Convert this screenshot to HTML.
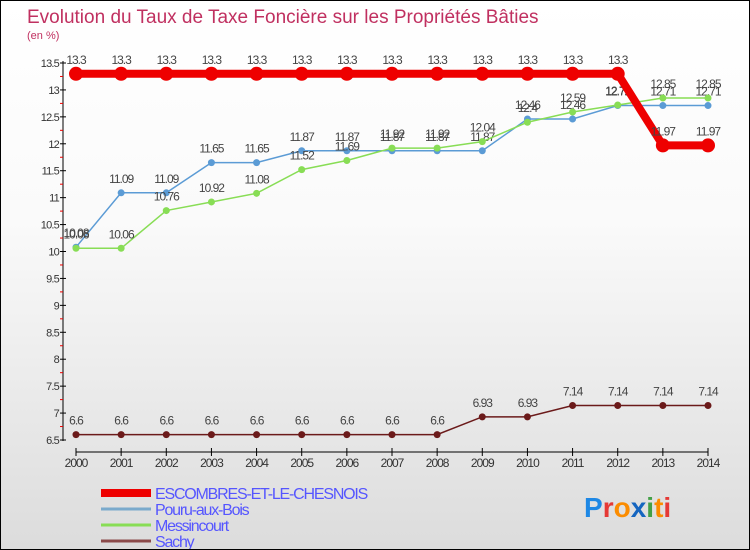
<!DOCTYPE html>
<html><head><meta charset="utf-8"><style>
body{margin:0;}
#wrap{width:748px;height:548px;border:1px solid #000;background:linear-gradient(#fff,#fafafa 40%,#dcdcdc);position:relative;overflow:hidden;font-family:"Liberation Sans",sans-serif;}
svg text{font-family:"Liberation Sans",sans-serif;}
</style></head><body>
<div id="wrap">
<svg id="c" width="748" height="548">
<text x="26" y="22" font-size="19" fill="#c03060">Evolution du Taux de Taxe Foncière sur les Propriétés Bâties</text>
<text x="26" y="38" font-size="11" fill="#c03060">(en %)</text>
</svg>
</div>
<script>
const years=[2000,2001,2002,2003,2004,2005,2006,2007,2008,2009,2010,2011,2012,2013,2014];
const escombres=[13.3,13.3,13.3,13.3,13.3,13.3,13.3,13.3,13.3,13.3,13.3,13.3,13.3,11.97,11.97];
const pouru=[10.08,11.09,11.09,11.65,11.65,11.87,11.87,11.87,11.87,11.87,12.46,12.46,12.71,12.71,12.71];
const messincourt=[10.06,10.06,10.76,10.92,11.08,11.52,11.69,11.92,11.92,12.04,12.4,12.59,12.72,12.85,12.85];
const sachy=[6.6,6.6,6.6,6.6,6.6,6.6,6.6,6.6,6.6,6.93,6.93,7.14,7.14,7.14,7.14];
const yTicks=[6.5,7,7.5,8,8.5,9,9.5,10,10.5,11,11.5,12,12.5,13,13.5];
const seriesNames=["ESCOMBRES-ET-LE-CHESNOIS","Pouru-aux-Bois","Messincourt","Sachy"];
const NS="http://www.w3.org/2000/svg";
const svg=document.getElementById('c');
const x=i=>75+i*(632/(years.length-1));
const y=v=>439-(v-6.5)*(377/7);
function mk(t,a,p){const e=document.createElementNS(NS,t);for(const k in a)e.setAttribute(k,a[k]);(p||svg).appendChild(e);return e;}
const ax=mk('line',{x1:62,y1:60,x2:62,y2:440,stroke:'#000'});


yTicks.forEach((v,i)=>{
  mk('line',{x1:59,x2:65,y1:y(v),y2:y(v),stroke:'#000'});
  if(i<yTicks.length-1)mk('line',{x1:59,x2:62,y1:y(v+0.25),y2:y(v+0.25),stroke:'#e00'});
  const t=mk('text',{x:58,y:y(v)+4,'font-size':11,'text-anchor':'end',fill:'#333','letter-spacing':'-0.8'});
  t.textContent=String(v);
  
  
});
const xa=mk('line',{x1:75,y1:451,x2:707,y2:451,stroke:'#000'});


years.forEach((yr,i)=>{
  mk('line',{x1:x(i),x2:x(i),y1:447,y2:455,stroke:'#000'});
  const t=mk('text',{x:x(i),y:466,'font-size':12,'text-anchor':'middle',fill:'#333','letter-spacing':'-1'});
  t.textContent=yr;
  
  
});
function series(data,color,w,r,name){
  const g=mk('g',{});
  
  
  mk('polyline',{points:data.map((v,i)=>x(i)+','+y(v)).join(' '),fill:'none',stroke:color,'stroke-width':w},g);
  data.forEach((v,i)=>{
    const c=mk('circle',{cx:x(i),cy:y(v),r:r,fill:color},g);
    
    
    const t=mk('text',{x:x(i),y:y(v)-10,'font-size':12,'text-anchor':'middle',fill:'#444','letter-spacing':'-1'},g);
    t.textContent=String(v);
    
    
  });
}
series(sachy,'#6b1a1a',1.5,3.5,'series-sachy');
series(pouru,'#5b9bd5',1.5,3.5,'series-pouru');
series(messincourt,'#88dd55',1.5,3.5,'series-messincourt');
series(escombres,'#ee0000',8,7,'series-escombres');
const lc=['#ee0000','#7aaacc','#88dd55','#8b4a4a'],lw=[8,3,3,3];
seriesNames.forEach((n,i)=>{
  const yy=492+i*16;
  const l=mk('line',{x1:100,x2:150,y1:yy,y2:yy,stroke:lc[i],'stroke-width':lw[i]});
  
  
  const t=mk('text',{x:154,y:yy+6,'font-size':16,fill:'#5555ff','letter-spacing':'-1.2'});
  t.textContent=n;
  
  
});
const logo=mk('text',{x:583,y:516,'font-size':28,'font-weight':'bold'});


[['P','#1e88e5'],['r','#e53935'],['o','#fb8c00'],['x','#1565c0'],['i','#43a047'],['t','#fb8c00'],['i','#e53935']].forEach(([ch,c])=>{const s=mk('tspan',{fill:c},logo);s.textContent=ch;});
</script>
</body></html>
